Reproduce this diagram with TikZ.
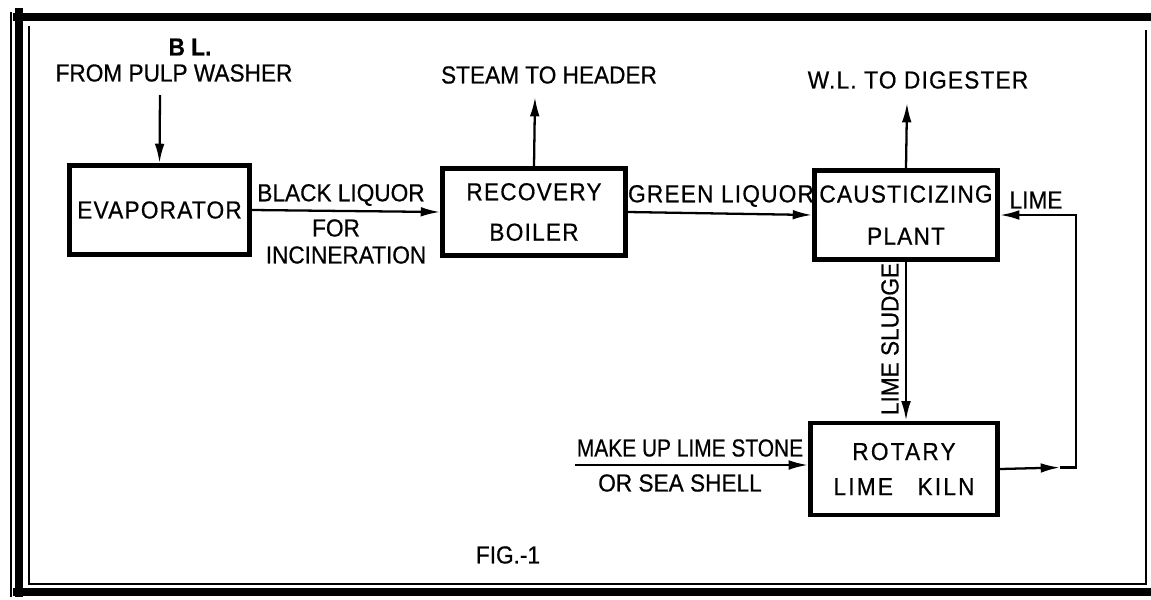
\documentclass[tikz,border=0pt]{standalone}
\usepackage{fontspec}
\setmainfont{Liberation Sans}[FakeStretch=0.92,FakeBold=0.6]
\newfontfamily\boxfont{Liberation Sans}[FakeStretch=0.92,FakeBold=0.6,LetterSpace=5]
\newfontfamily\kilnfont{Liberation Sans}[FakeStretch=0.92,FakeBold=0.6,LetterSpace=9]
\usetikzlibrary{arrows.meta}
\begin{document}
\begin{tikzpicture}[x=0.02cm,y=-0.02cm,
  unit/.style={draw,line width=2.8pt,rectangle,inner sep=0pt,align=center,
    font=\boxfont\fontsize{14}{22}\selectfont},
  conn/.style={line width=1.3pt,-{Latex[length=11pt,width=5.5pt]}},
  lbl/.style={inner sep=0pt,font=\fontsize{14}{16}\selectfont},
  framethick/.style={line width=4.5pt},
  framethin/.style={line width=1.2pt}]
\useasboundingbox (0,0) rectangle (1151,599);
% frame
\draw[framethick] (19,8) -- (19,597);
\draw[framethick] (13,17) -- (1151,17);
\draw[framethick] (13,592) -- (1151,592);
\draw[framethin] (29,26) -- (29,584) -- (1146,584) -- (1146,30);
\draw[framethin] (11,12) -- (11,597);
% units
\node[unit,minimum width=3.6cm,minimum height=1.78cm] (evap) at (159.5,210) {EVAPORATOR};
\node[unit,minimum width=3.66cm,minimum height=1.74cm,font=\boxfont\fontsize{14}{23}\selectfont] (boil) at (534,212) {RECOVERY\\BOILER};
\node[unit,minimum width=3.66cm,minimum height=1.78cm,font=\boxfont\fontsize{14}{24}\selectfont] (caus) at (906,215) {CAUSTICIZING\\PLANT};
\node[unit,minimum width=3.74cm,minimum height=1.84cm,font=\kilnfont\fontsize{14}{20}\selectfont] (kiln) at (904,469) {ROTARY\\LIME\quad KILN};
% labels
\node[lbl,font=\bfseries\fontsize{14}{16}\selectfont] (bl) at (190,47) {B L.};
\node[lbl] (fpw) at (174,73) {FROM PULP WASHER};
\node[lbl] (sth) at (549,75) {STEAM TO HEADER};
\node[lbl,font=\boxfont\fontsize{14}{16}\selectfont] (wld) at (918,80) {W.L. TO DIGESTER};
\node[lbl] (blk) at (341,195) {BLACK LIQUOR};
\node[lbl] (for) at (336,228) {FOR};
\node[lbl] (inc) at (346,255) {INCINERATION};
\node[lbl,font=\boxfont\fontsize{14}{16}\selectfont] (grn) at (721,196) {GREEN LIQUOR};
\node[lbl] (lime) at (1036,200) {LIME};
\node[lbl,rotate=90] (sludge) at (890,339) {LIME SLUDGE};
\node[lbl,font=\fontsize{14}{16}\selectfont\addfontfeature{FakeStretch=0.85}] (mk) at (690,448) {MAKE UP LIME STONE};
\node[lbl] (sea) at (680,483) {OR SEA SHELL};
\node[lbl] (fig) at (508,555) {FIG.-1};
% connector end points
\coordinate (in1) at (160,95);
\coordinate (out1) at (535,97);
\coordinate (out2) at (907,103);
\coordinate (mk0) at (575,465);
\coordinate (rm) at (1060,467.5);
\coordinate (rc) at (1076,467.5);
\coordinate (rt) at (1076,215);
% connectors
\draw[conn] (in1) -- (evap.north);
\draw[conn] (evap.east) -- (boil.west);
\draw[conn] (boil.north) -- (out1);
\draw[conn] (boil.east) -- (caus.west);
\draw[conn] (caus.north) -- (out2);
\draw[conn] (caus.south) -- (kiln.north-|caus.south);
\draw[conn] (mk0) -- (mk0-|kiln.west);
\draw[conn] (kiln.east) -- (rm);
\draw[conn] (rm) -- (rc) -- (rt) -- (caus.east);
\end{tikzpicture}
\end{document}
